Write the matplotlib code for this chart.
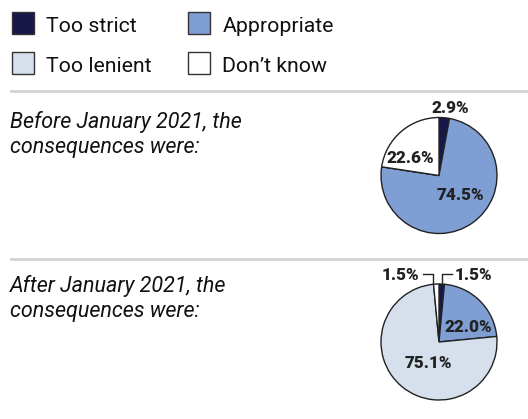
import matplotlib.pyplot as plt
from matplotlib.patches import Rectangle

W, H = 528, 419
fig = plt.figure(figsize=(W / 100, H / 100), dpi=100)
plt.rcParams['font.family'] = ['Roboto', 'DejaVu Sans']

# data
categories = ["Too strict", "Appropriate", "Too lenient", "Don\u2019t know"]
colors = ["#17174a", "#7f9fd4", "#d5e0ec", "#ffffff"]
before = [2.9, 74.5, 0.0, 22.6]
after = [1.5, 22.0, 75.1, 1.5]
titles = [["Before January 2021, the", "consequences were:"],
          ["After January 2021, the", "consequences were:"]]


def fx(px):
    return px / W


def fy(py):
    return 1 - py / H


# legend
leg_pos = [(12, 12), (188, 12), (12, 52), (188, 52)]
for (x, y), cat, col in zip(leg_pos, categories, colors):
    fig.patches.append(Rectangle((fx(x), fy(y + 22)), 22 / W, 22 / H,
                                 transform=fig.transFigure, facecolor=col,
                                 edgecolor="#333333", linewidth=1))
    fig.text(fx(x + 34.5), fy(y + 19.7), cat, fontsize=15.3, va="baseline",
             ha="left", color="#111111")

# separators
for y in [91.5, 258.5]:
    fig.add_artist(plt.Line2D([fx(11), fx(528)], [fy(y), fy(y)],
                              transform=fig.transFigure, color="#d3d3d3",
                              linewidth=2))

# titles, one line at a time
for y0, lines in zip([128, 292], titles):
    for i, t in enumerate(lines):
        fig.text(fx(10), fy(y0 + 25 * i), t, fontsize=15.5, style="italic",
                 va="baseline", ha="left", color="#111111")


def draw_pie(cx, cy, r, vals):
    ax = fig.add_axes([fx(cx - r), fy(cy + r), 2 * r / W, 2 * r / H])
    ax.pie(vals, colors=colors, startangle=90, counterclock=False,
           wedgeprops=dict(edgecolor="#222222", linewidth=1))
    ax.set_xlim(-1, 1)
    ax.set_ylim(-1, 1)
    ax.set_aspect("auto")
    ax.axis("off")
    return ax


lab = dict(fontsize=12.3, fontweight="black", color="#222222",
           ha="center", va="center", clip_on=False)

ax1 = draw_pie(439, 175.5, 58, before)
ax1.text(0.19, 1.16, f"{before[0]}%", **lab)
ax1.text(-0.49, 0.30, f"{before[3]}%", **lab)
ax1.text(0.37, -0.34, f"{before[1]}%", **lab)

ax2 = draw_pie(439, 342, 58, after)
ax2.text(-0.67, 1.16, f"{after[3]}%", **lab)
ax2.text(0.59, 1.16, f"{after[0]}%", **lab)
ax2.text(0.50, 0.26, f"{after[1]}%", **lab)
ax2.text(-0.19, -0.36, f"{after[2]}%", **lab)
ax2.plot([-0.28, -0.10, -0.10], [1.18, 1.18, 1.0], color="#222222",
         linewidth=1, clip_on=False)
ax2.plot([0.05, 0.05, 0.22], [1.0, 1.18, 1.18], color="#222222",
         linewidth=1, clip_on=False)

fig.savefig("out.png", dpi=100)
